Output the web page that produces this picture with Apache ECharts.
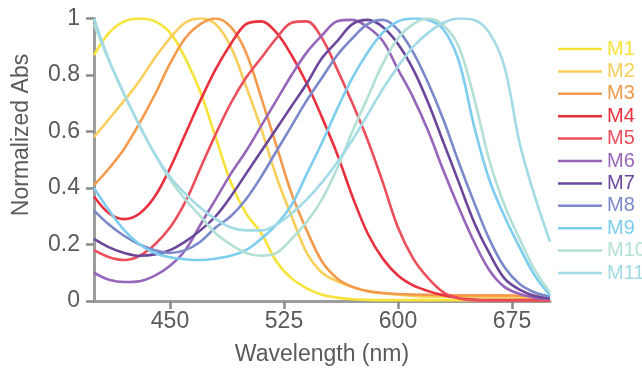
<!DOCTYPE html>
<html>
<head>
<meta charset="utf-8">
<script src="https://cdn.jsdelivr.net/npm/echarts@6/dist/echarts.min.js"></script>
<style>
html,body{margin:0;padding:0;background:#fff;}
#chart{width:642px;height:368px;}
</style>
</head>
<body>
<div id="chart"></div>
<script>
const wavelengths = [400,410,420,430,440,450,460,470,480,490,500,510,520,530,540,550,560,570,580,590,600,610,620,630,640,650,660,670,680,690,700];
const seriesNames = ['M1','M2','M3','M4','M5','M6','M7','M8','M9','M10','M11'];
const xTicks = [450,525,600,675];

const M1 = [0.87,0.95,0.99,1.0,0.99,0.95,0.86,0.74,0.58,0.42,0.31,0.24,0.14,0.08,0.045,0.022,0.012,0.006,0.004,0.003,0.003,0.003,0.003,0.003,0.003,0.003,0.003,0.003,0.003,0.003,0.003];
const M2 = [0.58,0.645,0.71,0.78,0.86,0.93,0.985,1.0,0.98,0.90,0.76,0.61,0.44,0.30,0.17,0.10,0.07,0.05,0.035,0.028,0.022,0.018,0.015,0.015,0.014,0.014,0.013,0.013,0.012,0.012,0.012];
const M3 = [0.41,0.47,0.54,0.63,0.73,0.84,0.93,0.98,1.0,0.97,0.88,0.72,0.55,0.38,0.25,0.14,0.08,0.05,0.035,0.028,0.025,0.023,0.022,0.021,0.02,0.02,0.02,0.02,0.019,0.018,0.017];
const M4 = [0.37,0.31,0.29,0.31,0.37,0.47,0.59,0.71,0.82,0.91,0.98,0.99,0.95,0.87,0.77,0.65,0.52,0.37,0.24,0.15,0.09,0.055,0.035,0.02,0.01,0.005,0.003,0.003,0.003,0.003,0.003];
const M5 = [0.18,0.155,0.145,0.16,0.20,0.26,0.35,0.47,0.59,0.70,0.79,0.86,0.93,0.985,0.99,0.93,0.82,0.70,0.57,0.42,0.26,0.15,0.08,0.03,0.01,0.003,0.002,0.002,0.002,0.002,0.002];
const M6 = [0.10,0.075,0.067,0.07,0.09,0.125,0.18,0.27,0.36,0.45,0.53,0.62,0.71,0.80,0.88,0.94,0.99,0.995,0.97,0.92,0.82,0.72,0.60,0.46,0.33,0.21,0.11,0.05,0.025,0.012,0.008];
const M7 = [0.22,0.19,0.17,0.16,0.165,0.18,0.21,0.25,0.30,0.37,0.45,0.53,0.61,0.69,0.77,0.86,0.92,0.98,0.995,0.97,0.91,0.82,0.70,0.56,0.42,0.28,0.17,0.08,0.04,0.018,0.01];
const M8 = [0.32,0.27,0.23,0.20,0.18,0.17,0.18,0.21,0.26,0.30,0.36,0.44,0.53,0.62,0.71,0.79,0.87,0.93,0.98,0.995,0.96,0.88,0.77,0.64,0.49,0.35,0.22,0.12,0.06,0.03,0.015];
const M9 = [0.40,0.32,0.25,0.20,0.17,0.155,0.148,0.145,0.15,0.16,0.18,0.22,0.27,0.34,0.45,0.56,0.68,0.79,0.88,0.95,0.99,1.0,0.995,0.96,0.85,0.62,0.43,0.30,0.19,0.09,0.02];
const M10 = [0.98,0.85,0.73,0.62,0.52,0.43,0.36,0.30,0.24,0.20,0.17,0.16,0.17,0.22,0.28,0.36,0.47,0.60,0.72,0.84,0.93,0.98,1.0,0.975,0.90,0.72,0.50,0.34,0.22,0.11,0.03];
const M11 = [1.0,0.85,0.73,0.62,0.52,0.44,0.38,0.33,0.29,0.26,0.25,0.25,0.27,0.31,0.36,0.42,0.49,0.57,0.66,0.75,0.83,0.90,0.95,0.985,1.0,0.995,0.95,0.83,0.56,0.37,0.21];

const allValues = [M1,M2,M3,M4,M5,M6,M7,M8,M9,M10,M11];
const colors = ['#f7e33a','#f8cf5a','#f49a4c','#e8313d','#eb4f5b','#9666ba','#6b479b','#7b89cb','#7ccdef','#b3e0d6','#a2dae6'];

const FONT = "'Liberation Sans', Arial, sans-serif";
const chart = echarts.init(document.getElementById('chart'));

const series = seriesNames.map((name, i) => ({
  name: name,
  type: 'line',
  smooth: 0.35,
  showSymbol: false,
  symbol: 'none',
  data: wavelengths.map((w, j) => [w, allValues[i][j]]),
  lineStyle: { color: colors[i], width: 2.6 },
  itemStyle: { color: colors[i] },
  z: 2 + i
}));

chart.setOption({
  animation: false,
  backgroundColor: '#fff',
  grid: { left: 94, right: 92, top: 18.5, bottom: 67, containLabel: false, outerBoundsMode: 'none' },
  legend: {
    orient: 'vertical',
    left: 553,
    top: 34,
    itemWidth: 44,
    itemHeight: 12,
    itemGap: 2.4,
    icon: 'path://M0,6L44,6L44,8.5L0,8.5Z',
    data: seriesNames.map((n, i) => ({ name: n, itemStyle: { color: colors[i] }, textStyle: { color: colors[i] } })),
    textStyle: { fontSize: 20, lineHeight: 20, fontFamily: FONT, padding: [0,0,0,0] }
  },
  xAxis: {
    type: 'value',
    min: 400,
    max: 700,
    name: 'Wavelength (nm)',
    nameLocation: 'middle',
    nameGap: 42,
    nameTextStyle: { fontSize: 23, color: '#5a5a5a', fontFamily: FONT },
    axisLine: { show: true, lineStyle: { color: '#9d9d9d', width: 3 } },
    axisTick: { show: true, length: 8, customValues: xTicks, lineStyle: { color: '#8a8a8a', width: 2.5 } },
    axisLabel: { customValues: xTicks, fontSize: 23, color: '#5a5a5a', fontFamily: FONT, margin: 9 },
    splitLine: { show: false }
  },
  yAxis: {
    type: 'value',
    min: 0,
    max: 1,
    interval: 0.2,
    axisLine: { show: true, lineStyle: { color: '#9d9d9d', width: 3 } },
    axisTick: { show: true, length: 8, lineStyle: { color: '#8a8a8a', width: 2.5 } },
    axisLabel: {
      fontSize: 23, color: '#5a5a5a', fontFamily: FONT, margin: 14,
      formatter: v => (v === 0 ? '0' : (Math.abs(v - 1) < 1e-9 ? '1' : v.toFixed(1)))
    },
    splitLine: { show: false }
  },
  graphic: [{
    type: 'text',
    x: 22,
    y: 135,
    rotation: Math.PI / 2,
    style: {
      text: 'Normalized Abs',
      fontSize: 23,
      fontFamily: FONT,
      fill: '#5a5a5a',
      align: 'center',
      verticalAlign: 'middle'
    }
  }],
  series: series
});
</script>
</body>
</html>
